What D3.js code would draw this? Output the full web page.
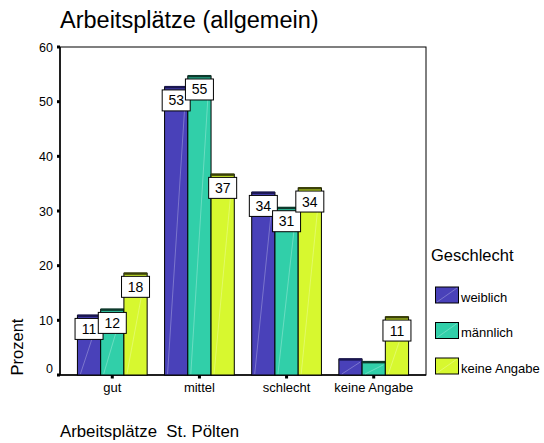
<!DOCTYPE html>
<html><head><meta charset="utf-8">
<script src="https://cdn.jsdelivr.net/npm/d3@7"></script>
<style>body{margin:0;background:#fff}svg{display:block;font-family:"Liberation Sans",Arial,sans-serif}</style>
</head><body><svg id="c" width="544" height="443"></svg>
<script>
const categories = ["gut", "mittel", "schlecht", "keine Angabe"];
const seriesNames = ["weiblich", "männlich", "keine Angabe"];
const weiblich = [10.9, 52.7, 33.4, 2.9];
const maennlich = [12.0, 54.7, 30.6, 2.4];
const keineAngabe = [18.6, 36.7, 34.2, 10.6];
const labelsW = ["11", "53", "34", null];
const labelsM = ["12", "55", "31", null];
const labelsK = ["18", "37", "34", "11"];
const yTicks = [0, 10, 20, 30, 40, 50, 60];
const colors = ["#4941b9", "#31cfa9", "#d7f82f"];
const capColors = ["#1a1650", "#0d3a2c", "#3a4008"];

const series = [weiblich, maennlich, keineAngabe];
const labels = [labelsW, labelsM, labelsK];

const svg = d3.select("#c");
const L = 60, R = 426, T = 47, B = 375;

const x = d3.scaleBand().domain(categories).range([L, R]).paddingOuter(0.2).paddingInner(0.2);
const xs = d3.scaleBand().domain(seriesNames).range([0, x.bandwidth()]);
const y = d3.scaleLinear().domain([0, 60]).range([B, T]);

// title
svg.append("text").attr("x", 60).attr("y", 28).attr("font-size", 23.5).attr("fill", "#000").text("Arbeitsplätze (allgemein)");

// frame
svg.append("rect").attr("x", L).attr("y", T).attr("width", R - L).attr("height", B - T)
  .attr("fill", "none").attr("stroke", "#000").attr("stroke-width", 1);
svg.append("line").attr("x1", L).attr("x2", L).attr("y1", T).attr("y2", B).attr("stroke", "#000").attr("stroke-width", 1.5);
svg.append("line").attr("x1", L).attr("x2", R).attr("y1", B).attr("y2", B).attr("stroke", "#000").attr("stroke-width", 1.5);

// y axis ticks
const yAxis = d3.axisLeft(y).tickValues(yTicks).tickSize(0).tickPadding(7);
const ga = svg.append("g").attr("transform", `translate(${L},0)`).call(yAxis);
ga.select(".domain").remove();
ga.selectAll("text").attr("font-size", 12.5).attr("fill", "#000").attr("font-family", "Liberation Sans, Arial, sans-serif")
  .attr("dy", d => d === 0 ? "-0.2em" : "0.32em");
svg.selectAll(".ytick").data(yTicks).enter().append("rect")
  .attr("x", L - 3).attr("y", d => y(d) - 1.5).attr("width", 3).attr("height", 3).attr("fill", "#000");

// x axis
const xAxis = d3.axisBottom(x).tickSize(0).tickPadding(8);
const gx = svg.append("g").attr("transform", `translate(0,${B})`).call(xAxis);
gx.select(".domain").remove();
gx.selectAll("text").attr("font-size", 13).attr("fill", "#000").attr("font-family", "Liberation Sans, Arial, sans-serif");
svg.selectAll(".xtick").data(categories).enter().append("rect")
  .attr("x", d => x(d) + x.bandwidth() / 2 - 1.5).attr("y", B).attr("width", 3).attr("height", 3.5).attr("fill", "#000");

// bars
const bars = svg.append("g");
series.forEach((vals, si) => {
  categories.forEach((c, ci) => {
    const v = vals[ci];
    const bx = x(c) + xs(seriesNames[si]);
    const bw = xs.bandwidth();
    const by = y(v);
    bars.append("rect").attr("x", bx).attr("y", by).attr("width", bw).attr("height", B - by)
      .attr("fill", colors[si]).attr("stroke", "#000").attr("stroke-width", 1);
    bars.append("line").attr("x1", bx + 3).attr("y1", B - 1).attr("x2", bx + bw - 2).attr("y2", by + 3)
      .attr("stroke", "#fff").attr("stroke-opacity", 0.35).attr("stroke-width", 0.8);
    bars.append("rect").attr("x", bx).attr("y", by - 1).attr("width", bw).attr("height", 2.5)
      .attr("fill", capColors[si]);
  });
});

// value labels
const lg = svg.append("g");
series.forEach((vals, si) => {
  categories.forEach((c, ci) => {
    const lab = labels[si][ci];
    if (lab == null) return;
    const bx = x(c) + xs(seriesNames[si]);
    const bw = xs.bandwidth();
    const by = y(vals[ci]);
    const w = 28, h = 21;
    const cx = bx + bw / 2;
    const top = by + 3;
    lg.append("rect").attr("x", cx - w / 2).attr("y", top).attr("width", w).attr("height", h)
      .attr("fill", "#fff").attr("stroke", "#000").attr("stroke-width", 1);
    lg.append("text").attr("x", cx).attr("y", top + h / 2 + 5).attr("text-anchor", "middle")
      .attr("font-size", 14).attr("fill", "#000").text(lab);
  });
});

// y label
svg.append("text").attr("transform", "translate(23,347) rotate(-90)").attr("text-anchor", "middle")
  .attr("font-size", 16.5).attr("fill", "#000").text("Prozent");

// x title
svg.append("text").attr("x", 60).attr("y", 437).attr("font-size", 16.8).attr("fill", "#000")
  .style("white-space", "pre").text("Arbeitsplätze  St. Pölten");

// legend
const leg = svg.append("g");
leg.append("text").attr("x", 431).attr("y", 261).attr("font-size", 16.5).attr("fill", "#000").text("Geschlecht");
seriesNames.forEach((n, i) => {
  const yy = 287 + i * 35.5;
  leg.append("rect").attr("x", 435.5).attr("y", yy).attr("width", 23).attr("height", 16)
    .attr("fill", colors[i]).attr("stroke", "#000").attr("stroke-width", 1);
  leg.append("line").attr("x1", 437).attr("y1", yy + 15).attr("x2", 457).attr("y2", yy + 1)
    .attr("stroke", "#fff").attr("stroke-opacity", 0.35).attr("stroke-width", 0.8);
  leg.append("text").attr("x", 461).attr("y", yy + 14.5).attr("font-size", 13).attr("fill", "#000").text(n);
});
</script></body></html>
